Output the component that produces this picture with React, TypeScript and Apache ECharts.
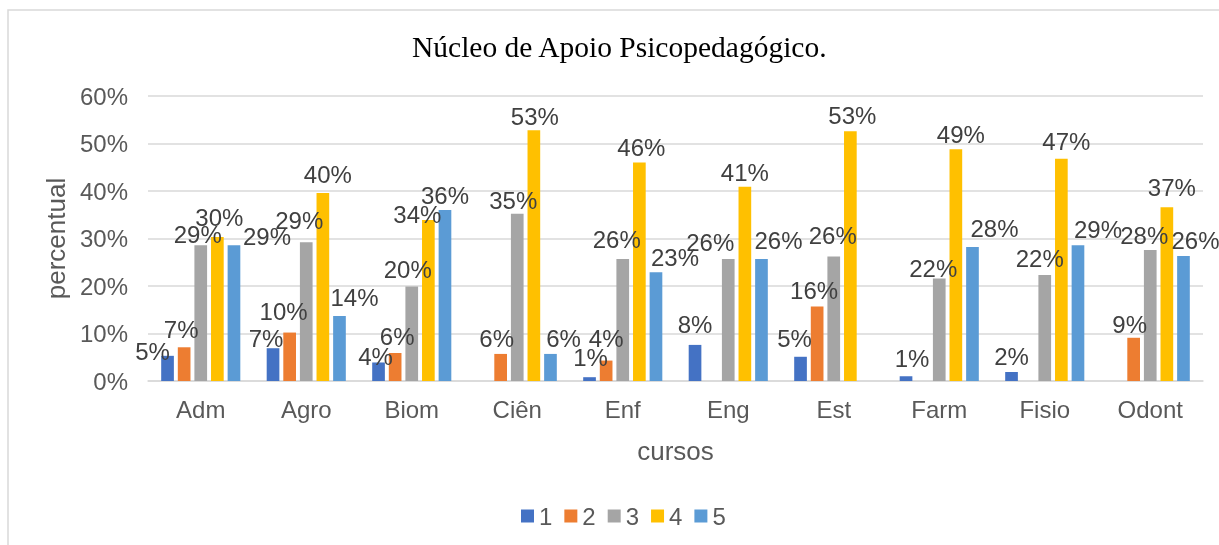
import React, { useEffect, useRef } from "react";
import * as echarts from "echarts";

const categories = ["Adm", "Agro", "Biom", "Ciên", "Enf", "Eng", "Est", "Farm", "Fisio", "Odont"];
const seriesNames = ["1", "2", "3", "4", "5"];
const s1 = [0.053, 0.069, 0.039, null, 0.008, 0.076, 0.051, 0.010, 0.019, null];
const s2 = [0.071, 0.102, 0.059, 0.057, 0.043, null, 0.157, null, null, 0.091];
const s3 = [0.286, 0.292, 0.199, 0.352, 0.257, 0.257, 0.262, 0.216, 0.223, 0.276];
const s4 = [0.303, 0.396, 0.339, 0.528, 0.46, 0.409, 0.526, 0.488, 0.468, 0.366];
const s5 = [0.286, 0.137, 0.36, 0.057, 0.229, 0.257, null, 0.282, 0.286, 0.263];
const yTicks = [0, 0.1, 0.2, 0.3, 0.4, 0.5, 0.6];

// label nudges (dx, dy in px) mimicking the reference's overlap-avoiding label placement
const labelNudge: number[][][] = [
  [[-15, 14], [-7, 8], [-3, 12], [0, 0], [1, -2], [0, -2], [-6, 0], [6, 0], [0, 3], [0, 0]],
  [[-3, 0], [-6, -3], [2, 2], [-4, 3], [0, -4], [0, 0], [-3, 2], [0, 0], [0, 0], [-4, 5]],
  [[-3, 7], [-7, -4], [-4, 1], [-4, 5], [-6, -1], [-18, 2], [-1, -3], [-6, 8], [-5, 1], [-6, 4]],
  [[2, -2], [5, 0], [-11, 13], [1, 4], [2, 3], [0, 4], [2, 2], [5, 3], [5, 1], [5, -2]],
  [[33, 9], [15, 0], [0, 3], [13, 3], [19, 3], [17, 0], [0, 0], [22, -1], [20, 2], [12, 2]],
];

const colors = ["#4472C4", "#ED7D31", "#A5A5A5", "#FFC000", "#5B9BD5"];
const FONT = "'Liberation Sans', Arial, sans-serif";

export default function App() {
  const ref = useRef<HTMLDivElement>(null);
  useEffect(() => {
    if (!ref.current) return;
    const chart = echarts.init(ref.current, null, { renderer: "svg" });
    const all = [s1, s2, s3, s4, s5];
    chart.setOption({
      animation: false,
      color: colors,
      textStyle: { fontFamily: FONT },
      title: {
        text: "Núcleo de Apoio Psicopedagógico.",
        left: 412,
        top: 32,
        padding: 0,
        textStyle: {
          fontFamily: "'Liberation Serif', 'Times New Roman', serif",
          fontSize: 29.5,
          fontWeight: "normal",
          color: "#000000",
        },
      },
      graphic: [
        {
          type: "polyline",
          shape: { points: [[8, 545], [8, 10], [1219, 10]] },
          style: { stroke: "#d9d9d9", lineWidth: 1.5, fill: null },
          silent: true,
        },
      ],
      legend: {
        data: seriesNames,
        left: 521,
        top: 504,
        padding: 0,
        itemWidth: 13,
        itemHeight: 13,
        itemGap: 12,
        icon: "rect",
        textStyle: { fontSize: 24, color: "#595959", fontFamily: FONT },
      },
      grid: { left: 148, right: 16, top: 96, bottom: 164, containLabel: false },
      xAxis: {
        type: "category",
        data: categories,
        name: "cursos",
        nameLocation: "middle",
        nameGap: 57,
        nameTextStyle: { fontSize: 26, color: "#595959", fontFamily: FONT },
        axisLine: { show: true, lineStyle: { color: "#d9d9d9", width: 1.5 } },
        axisTick: { show: false },
        axisLabel: { fontSize: 24, color: "#595959", margin: 16, fontFamily: FONT },
      },
      yAxis: {
        type: "value",
        min: yTicks[0],
        max: yTicks[yTicks.length - 1],
        interval: 0.1,
        name: "percentual",
        nameLocation: "middle",
        nameGap: 74,
        nameTextStyle: { fontSize: 26, color: "#595959", fontFamily: FONT },
        axisLine: { show: false },
        axisTick: { show: false },
        splitLine: { lineStyle: { color: "#d9d9d9", width: 1.5 } },
        axisLabel: {
          fontSize: 24,
          color: "#595959",
          margin: 20,
          fontFamily: FONT,
          formatter: (v: number) => Math.round(v * 100) + "%",
        },
      },
      series: all.map((d, i) => ({
        name: seriesNames[i],
        type: "bar",
        data: d.map((v, j) =>
          v == null ? null : { value: v, label: { offset: labelNudge[i][j] } }
        ),
        barGap: "31%",
        barCategoryGap: "25%",
        itemStyle: { color: colors[i] },
        label: {
          show: true,
          position: "top",
          distance: 6,
          fontSize: 24,
          color: "#404040",
          fontFamily: FONT,
          formatter: (p: any) => (p.value == null ? "" : Math.round(p.value * 100) + "%"),
        },
      })),
    });
    return () => chart.dispose();
  }, []);
  return <div ref={ref} style={{ position: "fixed", left: 0, top: 0, width: 1219, height: 545 }} />;
}
